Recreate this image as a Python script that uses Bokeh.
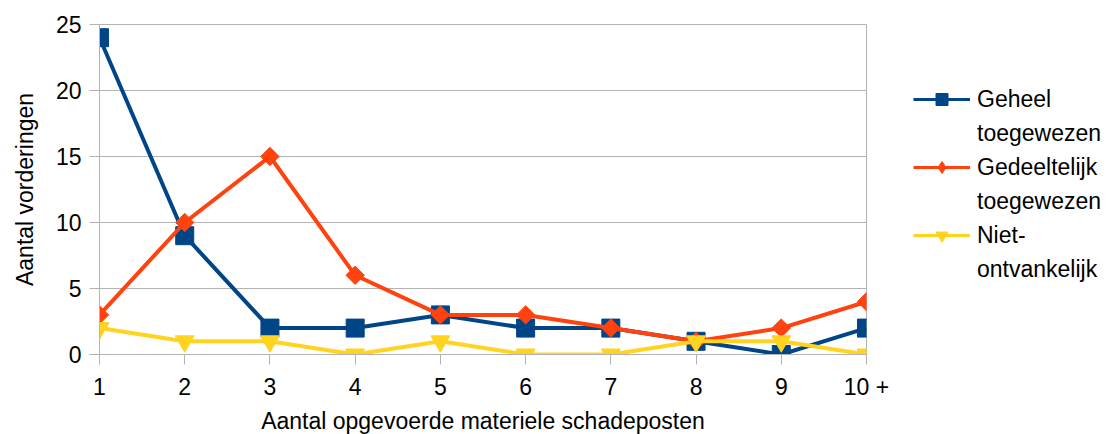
import math
from bokeh.plotting import figure
from bokeh.models import Legend, LegendItem, FixedTicker
from bokeh.embed import file_html
from bokeh.resources import INLINE

categories = ["1", "2", "3", "4", "5", "6", "7", "8", "9", "10 +"]
geheel = [24, 9, 2, 2, 3, 2, 2, 1, 0, 2]
gedeeltelijk = [3, 10, 15, 6, 3, 3, 2, 1, 2, 4]
niet_ontvankelijk = [2, 1, 1, 0, 1, 0, 0, 1, 1, 0]
series_names = [("Geheel", "toegewezen"), ("Gedeeltelijk", "toegewezen"), ("Niet-", "ontvankelijk")]
y_ticks = [0, 5, 10, 15, 20, 25]

FONT = "Liberation Sans"
GRID = "#b3b3b3"
TXT = "#000000"

xs = list(range(1, len(categories) + 1))

p = figure(width=1115, height=434, output_backend="svg", toolbar_location=None,
           x_range=(1, len(categories)), y_range=(0, 25),
           frame_width=767, frame_height=330,
           min_border_left=99, min_border_top=24, min_border_bottom=80, min_border_right=249)
p.background_fill_color = "white"
p.border_fill_color = "white"
p.outline_line_color = GRID
p.outline_line_width = 1

p.xgrid.visible = False
p.ygrid.grid_line_color = GRID
p.ygrid.grid_line_width = 1
p.ygrid.ticker = FixedTicker(ticks=y_ticks)

p.xaxis.ticker = FixedTicker(ticks=xs)
p.xaxis.major_label_overrides = {x: c for x, c in zip(xs, categories)}
p.yaxis.ticker = FixedTicker(ticks=y_ticks)

for ax in (p.xaxis[0], p.yaxis[0]):
    ax.axis_line_color = GRID
    ax.major_tick_line_color = GRID
    ax.major_tick_in = 0
    ax.major_tick_out = 10
    ax.minor_tick_line_color = None
    ax.major_label_text_font = FONT
    ax.major_label_text_font_size = "23px"
    ax.major_label_text_color = TXT
    ax.axis_label_text_font = FONT
    ax.axis_label_text_font_size = "23px"
    ax.axis_label_text_font_style = "normal"
    ax.axis_label_text_color = TXT

p.xaxis.axis_label = "Aantal opgevoerde materiele schadeposten"
p.yaxis.axis_label = "Aantal vorderingen"
p.xaxis.major_label_standoff = 9
p.yaxis.major_label_standoff = 8
p.xaxis.axis_label_standoff = 5
p.yaxis.axis_label_standoff = 15

colors = ["#004586", "#ff420e", "#ffd320"]
markers = ["square", "square", "inverted_triangle"]
legend_markers = ["square", "diamond", "inverted_triangle"]
angles = [0, math.pi / 4, 0]
sizes = [18, 13, 19]
data = [geheel, gedeeltelijk, niet_ontvankelijk]

items = []
for (l1, l2), ys, c, m, lm, a, s in zip(series_names, data, colors, markers, legend_markers, angles, sizes):
    p.line(xs, ys, line_color=c, line_width=4)
    p.scatter(xs, ys, marker=m, angle=a, size=s, fill_color=c, line_color=c)
    # legend-only copies (hidden in the plot, shown in the legend)
    ll = p.line(xs, ys, line_color=c, line_width=3, visible=False)
    lsc = p.scatter(xs, ys, marker=lm, size=s, fill_color=c, line_color=c, visible=False)
    blank = p.line(xs, ys, line_alpha=0, visible=False)
    items.append(LegendItem(label=l1, renderers=[ll, lsc]))
    items.append(LegendItem(label=l2, renderers=[blank]))

legend = Legend(items=items, location=(47, 70))
legend.label_text_font = FONT
legend.label_text_font_size = "23px"
legend.label_text_color = TXT
legend.glyph_width = 57
legend.glyph_height = 30
legend.label_height = 27
legend.spacing = 4
legend.padding = 0
legend.margin = 0
legend.label_standoff = 7
legend.border_line_color = None
legend.background_fill_alpha = 0
legend.inactive_fill_alpha = 0
p.add_layout(legend, "right")

open("out.html", "w").write(file_html(p, INLINE))
